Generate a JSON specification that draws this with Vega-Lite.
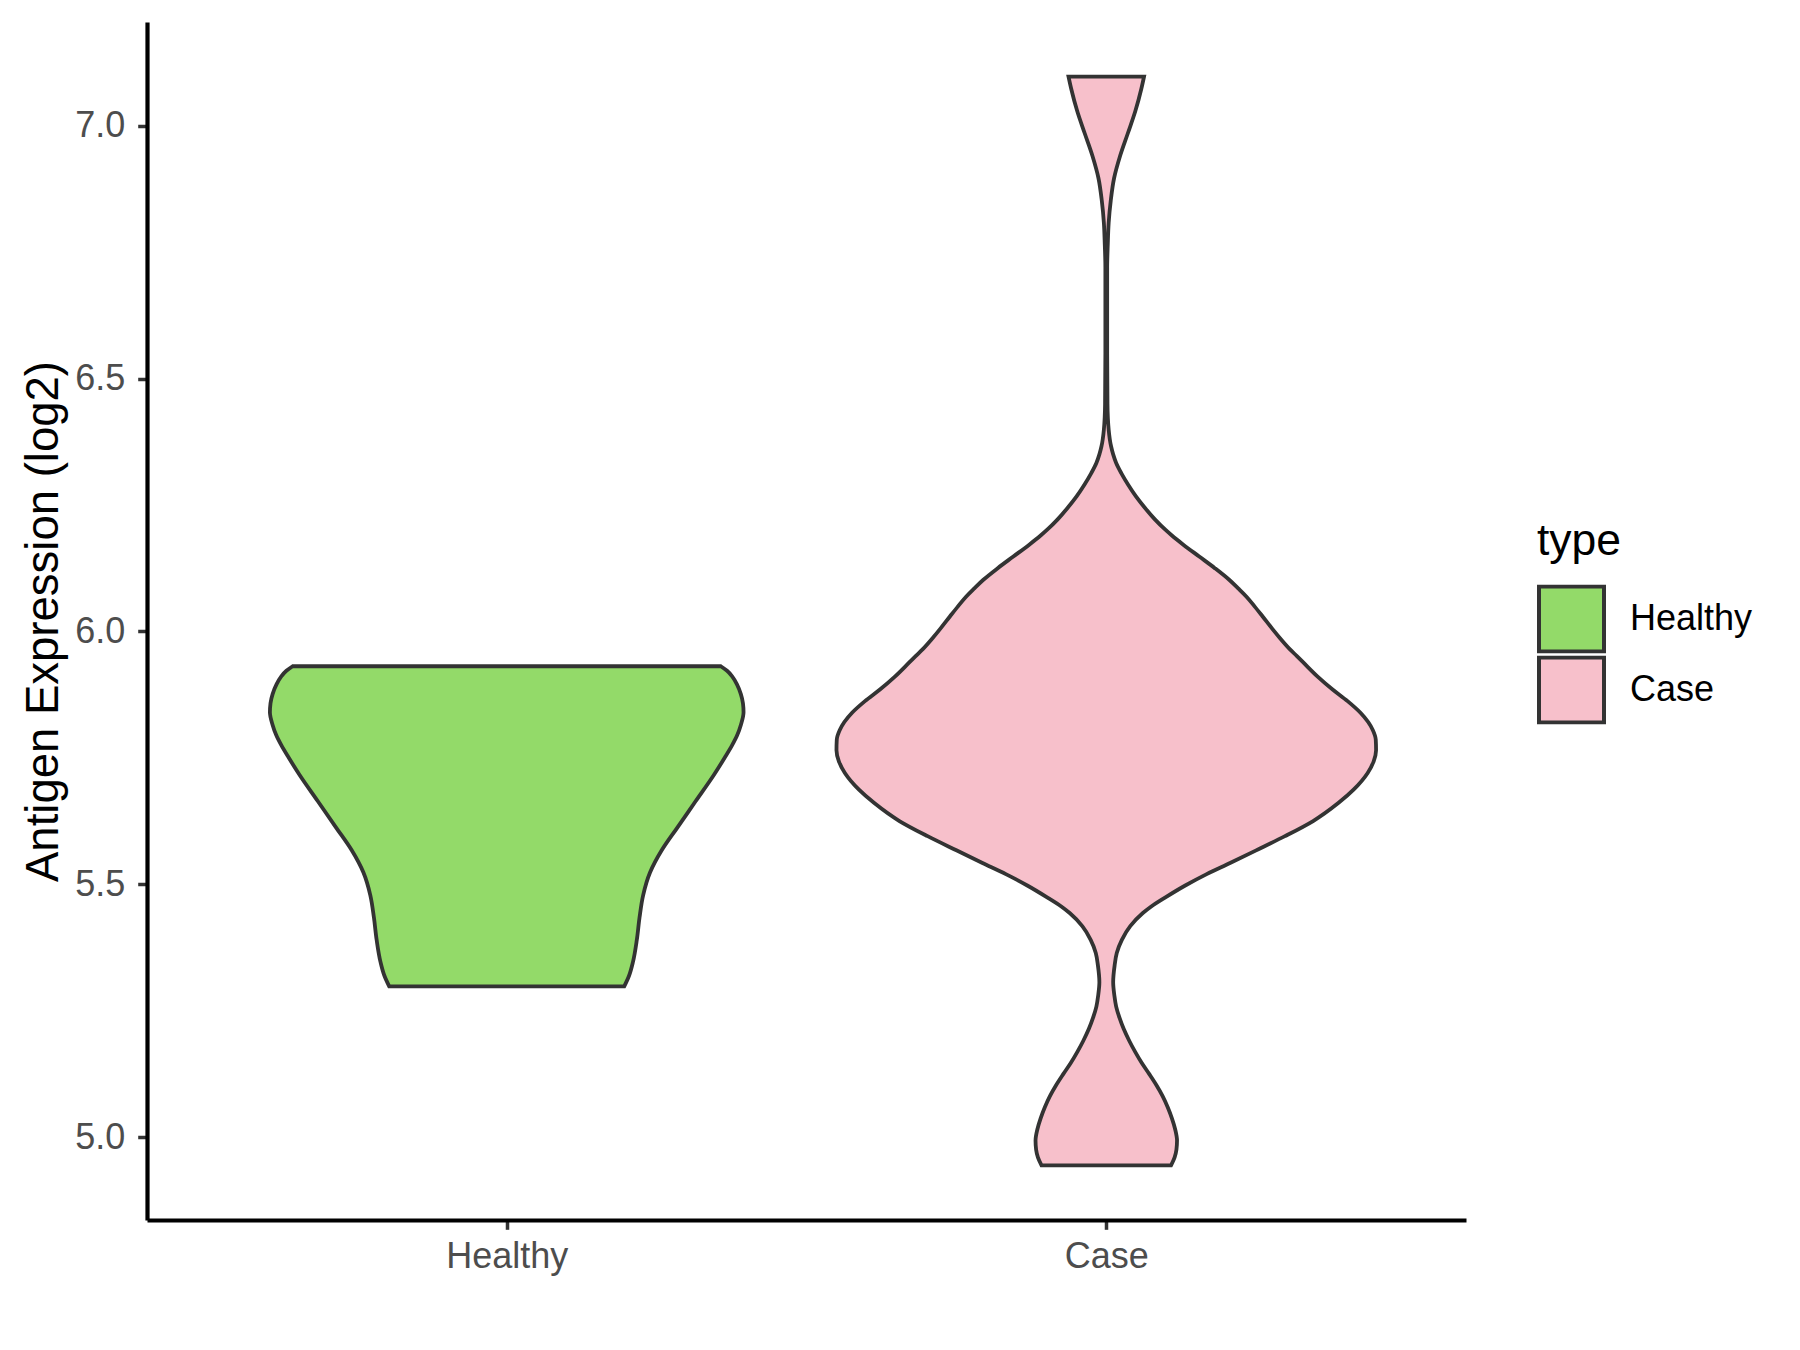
{
  "$schema": "https://vega.github.io/schema/vega-lite/v6.json",
  "autosize": {"type": "none"},
  "width": 1319,
  "height": 1198,
  "padding": {"left": 147, "top": 22, "right": 334, "bottom": 130},
  "background": "white",
  "config": {"view": {"stroke": null}, "font": "Liberation Sans"},
  "data": {
    "values": [
      {"type": "Healthy", "value": 5.298, "width": 0.392},
      {"type": "Healthy", "value": 5.319, "width": 0.408},
      {"type": "Healthy", "value": 5.346, "width": 0.421},
      {"type": "Healthy", "value": 5.390, "width": 0.434},
      {"type": "Healthy", "value": 5.434, "width": 0.443},
      {"type": "Healthy", "value": 5.478, "width": 0.455},
      {"type": "Healthy", "value": 5.523, "width": 0.478},
      {"type": "Healthy", "value": 5.567, "width": 0.517},
      {"type": "Healthy", "value": 5.611, "width": 0.568},
      {"type": "Healthy", "value": 5.664, "width": 0.630},
      {"type": "Healthy", "value": 5.717, "width": 0.692},
      {"type": "Healthy", "value": 5.750, "width": 0.727},
      {"type": "Healthy", "value": 5.775, "width": 0.752},
      {"type": "Healthy", "value": 5.795, "width": 0.769},
      {"type": "Healthy", "value": 5.815, "width": 0.781},
      {"type": "Healthy", "value": 5.840, "width": 0.790},
      {"type": "Healthy", "value": 5.858, "width": 0.788},
      {"type": "Healthy", "value": 5.876, "width": 0.781},
      {"type": "Healthy", "value": 5.895, "width": 0.768},
      {"type": "Healthy", "value": 5.911, "width": 0.752},
      {"type": "Healthy", "value": 5.922, "width": 0.735},
      {"type": "Healthy", "value": 5.931, "width": 0.714},
      {"type": "Case", "value": 4.944, "width": 0.216},
      {"type": "Case", "value": 4.960, "width": 0.228},
      {"type": "Case", "value": 4.975, "width": 0.234},
      {"type": "Case", "value": 4.993, "width": 0.236},
      {"type": "Case", "value": 5.015, "width": 0.230},
      {"type": "Case", "value": 5.037, "width": 0.219},
      {"type": "Case", "value": 5.059, "width": 0.205},
      {"type": "Case", "value": 5.081, "width": 0.188},
      {"type": "Case", "value": 5.103, "width": 0.167},
      {"type": "Case", "value": 5.125, "width": 0.143},
      {"type": "Case", "value": 5.147, "width": 0.118},
      {"type": "Case", "value": 5.169, "width": 0.096},
      {"type": "Case", "value": 5.190, "width": 0.077},
      {"type": "Case", "value": 5.214, "width": 0.058},
      {"type": "Case", "value": 5.236, "width": 0.044},
      {"type": "Case", "value": 5.258, "width": 0.033},
      {"type": "Case", "value": 5.280, "width": 0.027},
      {"type": "Case", "value": 5.306, "width": 0.023},
      {"type": "Case", "value": 5.340, "width": 0.028},
      {"type": "Case", "value": 5.364, "width": 0.035},
      {"type": "Case", "value": 5.390, "width": 0.052},
      {"type": "Case", "value": 5.417, "width": 0.080},
      {"type": "Case", "value": 5.443, "width": 0.122},
      {"type": "Case", "value": 5.456, "width": 0.150},
      {"type": "Case", "value": 5.475, "width": 0.200},
      {"type": "Case", "value": 5.497, "width": 0.262},
      {"type": "Case", "value": 5.520, "width": 0.335},
      {"type": "Case", "value": 5.542, "width": 0.413},
      {"type": "Case", "value": 5.567, "width": 0.500},
      {"type": "Case", "value": 5.595, "width": 0.596},
      {"type": "Case", "value": 5.625, "width": 0.690},
      {"type": "Case", "value": 5.661, "width": 0.775},
      {"type": "Case", "value": 5.687, "width": 0.825},
      {"type": "Case", "value": 5.720, "width": 0.872},
      {"type": "Case", "value": 5.743, "width": 0.892},
      {"type": "Case", "value": 5.765, "width": 0.900},
      {"type": "Case", "value": 5.786, "width": 0.899},
      {"type": "Case", "value": 5.805, "width": 0.889},
      {"type": "Case", "value": 5.839, "width": 0.848},
      {"type": "Case", "value": 5.862, "width": 0.805},
      {"type": "Case", "value": 5.885, "width": 0.755},
      {"type": "Case", "value": 5.910, "width": 0.706},
      {"type": "Case", "value": 5.938, "width": 0.658},
      {"type": "Case", "value": 5.951, "width": 0.636},
      {"type": "Case", "value": 5.965, "width": 0.612},
      {"type": "Case", "value": 5.987, "width": 0.579},
      {"type": "Case", "value": 6.005, "width": 0.554},
      {"type": "Case", "value": 6.030, "width": 0.521},
      {"type": "Case", "value": 6.050, "width": 0.494},
      {"type": "Case", "value": 6.069, "width": 0.467},
      {"type": "Case", "value": 6.085, "width": 0.440},
      {"type": "Case", "value": 6.102, "width": 0.410},
      {"type": "Case", "value": 6.125, "width": 0.362},
      {"type": "Case", "value": 6.148, "width": 0.310},
      {"type": "Case", "value": 6.171, "width": 0.258},
      {"type": "Case", "value": 6.190, "width": 0.218},
      {"type": "Case", "value": 6.201, "width": 0.197},
      {"type": "Case", "value": 6.221, "width": 0.163},
      {"type": "Case", "value": 6.245, "width": 0.128},
      {"type": "Case", "value": 6.267, "width": 0.099},
      {"type": "Case", "value": 6.290, "width": 0.073},
      {"type": "Case", "value": 6.313, "width": 0.050},
      {"type": "Case", "value": 6.333, "width": 0.033},
      {"type": "Case", "value": 6.350, "width": 0.023},
      {"type": "Case", "value": 6.366, "width": 0.016},
      {"type": "Case", "value": 6.399, "width": 0.008},
      {"type": "Case", "value": 6.450, "width": 0.004},
      {"type": "Case", "value": 6.550, "width": 0.003},
      {"type": "Case", "value": 6.650, "width": 0.003},
      {"type": "Case", "value": 6.720, "width": 0.003},
      {"type": "Case", "value": 6.765, "width": 0.005},
      {"type": "Case", "value": 6.808, "width": 0.008},
      {"type": "Case", "value": 6.852, "width": 0.015},
      {"type": "Case", "value": 6.896, "width": 0.026},
      {"type": "Case", "value": 6.940, "width": 0.046},
      {"type": "Case", "value": 6.985, "width": 0.072},
      {"type": "Case", "value": 7.029, "width": 0.097},
      {"type": "Case", "value": 7.073, "width": 0.117},
      {"type": "Case", "value": 7.097, "width": 0.126}
    ]
  },
  "layer": [
    {
      "transform": [{"filter": "datum.type === 'Healthy'"}],
      "mark": {"type": "area", "orient": "horizontal", "interpolate": "monotone", "stroke": "#333333", "strokeWidth": 3.8, "opacity": 1},
      "encoding": {
        "y": {
          "field": "value", "type": "quantitative",
          "scale": {"domain": [4.836, 7.205], "nice": false, "zero": false},
          "axis": {
            "values": [5, 5.5, 6, 6.5, 7], "format": ".1f", "grid": false,
            "title": "Antigen Expression (log2)",
            "titleFontSize": 45.5, "titleFontWeight": "normal", "titleColor": "#000000",
            "titleX": -90, "titleBaseline": "alphabetic",
            "labelFontSize": 36, "labelColor": "#4D4D4D", "labelPadding": 13,
            "tickSize": 9.3, "tickWidth": 3.5, "tickColor": "#333333",
            "domainColor": "#000000", "domainWidth": 4.2
          }
        },
        "x": {
          "field": "width", "type": "quantitative", "stack": "center", "impute": null,
          "scale": {"domain": [-0.205, 1.995], "nice": false, "zero": false},
          "axis": null
        },
        "color": {
          "field": "type", "type": "nominal",
          "scale": {"domain": ["Healthy", "Case"], "range": ["#93DA69", "#F7C0CB"]},
          "legend": {
            "title": "type", "orient": "none", "legendX": 1390, "legendY": 498,
            "padding": 0,
            "titleFontSize": 44.5, "titleFontWeight": "normal", "titleColor": "#000000",
            "titleBaseline": "top", "titlePadding": 20,
            "labelFontSize": 36, "labelColor": "#000000", "labelOffset": 24,
            "symbolType": "square", "symbolSize": 4225,
            "symbolStrokeColor": "#333333", "symbolStrokeWidth": 4, "symbolOpacity": 1,
            "clipHeight": 69,
            "rowPadding": 2
          }
        }
      }
    },
    {
      "transform": [{"filter": "datum.type === 'Case'"}],
      "mark": {"type": "area", "orient": "horizontal", "interpolate": "monotone", "stroke": "#333333", "strokeWidth": 3.8, "opacity": 1},
      "encoding": {
        "y": {"field": "value", "type": "quantitative"},
        "x": {
          "field": "width", "type": "quantitative", "stack": "center", "impute": null,
          "scale": {"domain": [-1.15, 1.05], "nice": false, "zero": false},
          "axis": null
        },
        "color": {"field": "type", "type": "nominal"}
      }
    },
    {
      "mark": {"type": "rule", "opacity": 0},
      "encoding": {
        "x": {
          "field": "type", "type": "nominal", "sort": ["Healthy", "Case"],
          "scale": {"type": "point", "padding": 0.6, "domain": ["Healthy", "Case"]},
          "axis": {
            "title": null, "grid": false, "labelAngle": 0,
            "labelFontSize": 36, "labelColor": "#4D4D4D",
            "labelBaseline": "alphabetic", "labelPadding": 38.5,
            "tickSize": 9.3, "tickWidth": 3.5, "tickColor": "#333333",
            "domainColor": "#000000", "domainWidth": 4.2
          }
        }
      }
    }
  ],
  "resolve": {"scale": {"x": "independent"}}
}
